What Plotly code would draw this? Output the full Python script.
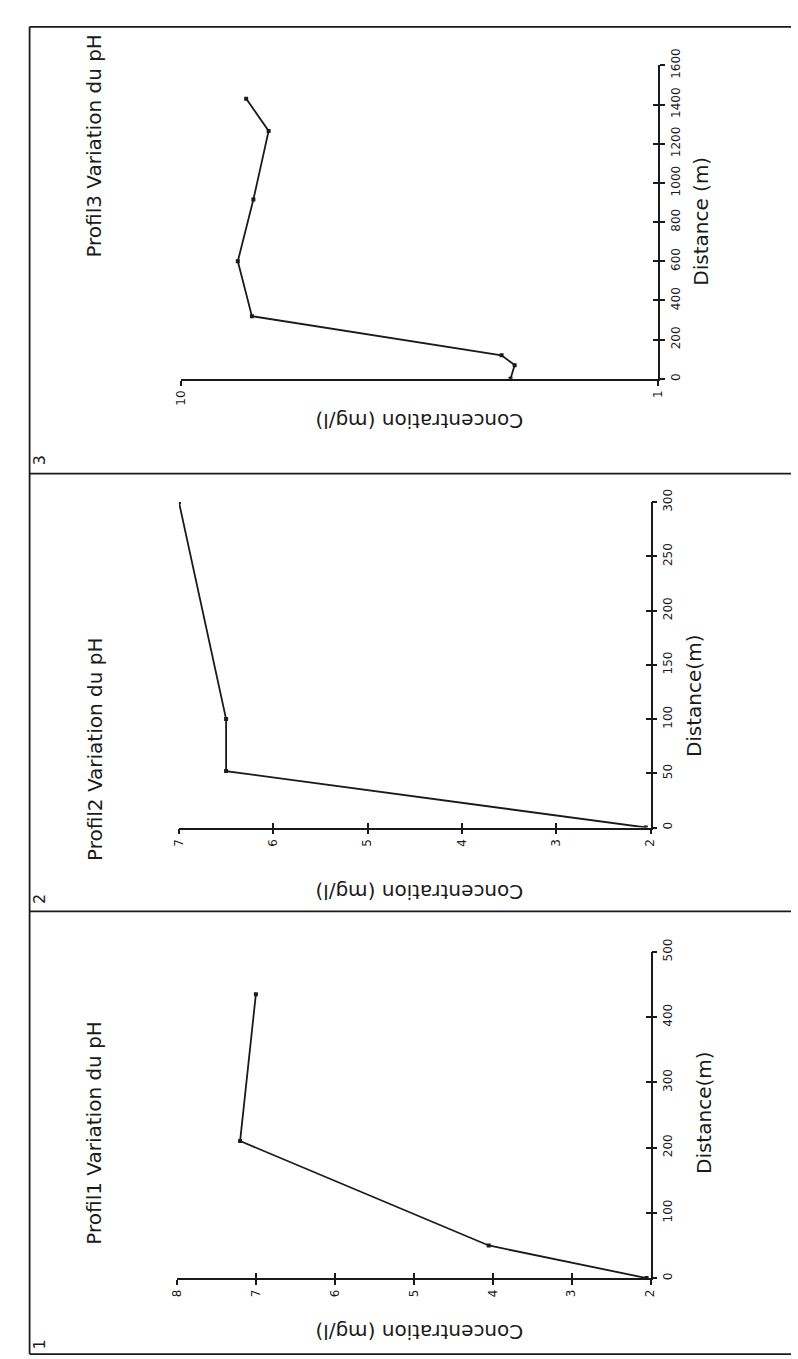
import plotly.graph_objects as go

W, H = 798, 1359

# ---------------- data ----------------
p1_distance = [0, 50, 210, 435]
p1_conc = [2.05, 4.05, 7.2, 7.0]

p2_distance = [0, 52, 100, 300]
p2_conc = [2.05, 6.5, 6.5, 7.0]

p3_distance = [0, 70, 120, 320, 600, 915, 1265, 1430]
p3_conc = [2.04, 2.0, 2.13, 7.1, 7.6, 7.05, 6.55, 7.3]

p1_conc_ticks = [2, 3, 4, 5, 6, 7, 8]
p1_dist_ticks = [0, 100, 200, 300, 400, 500]
p2_conc_ticks = [2, 3, 4, 5, 6, 7]
p2_dist_ticks = [0, 50, 100, 150, 200, 250, 300]
p3_conc_ticks = [1, 10]
p3_dist_ticks = [0, 200, 400, 600, 800, 1000, 1200, 1400, 1600]

titles = ["Profil1 Variation du pH", "Profil2 Variation du pH", "Profil3 Variation du pH"]
dist_titles = ["Distance(m)", "Distance(m)", "Distance (m)"]
conc_title = "Concentration (mg/l)"
panel_numbers = ["1", "2", "3"]

# ---------------- layout geometry (pixels) ----------------
panels = [
    dict(d=p1_distance, c=p1_conc, ct=p1_conc_ticks, dt=p1_dist_ticks,
         xl=173, xr=655, yb=1279, yt=948, crange=[8, 2], drange=[0, 500], ctype="linear",
         title_y=1131, dtitle=(710, 1111), ctitle_y=1333, num_y=1346),
    dict(d=p2_distance, c=p2_conc, ct=p2_conc_ticks, dt=p2_dist_ticks,
         xl=175, xr=655, yb=822, yt=492, crange=[7, 2], drange=[0, 300], ctype="linear",
         title_y=742, dtitle=(700, 688), ctitle_y=888, num_y=894),
    dict(d=p3_distance, c=p3_conc, ct=p3_conc_ticks, dt=p3_dist_ticks,
         xl=177, xr=663, yb=367, yt=49, crange=[1, 0], drange=[0, 1600], ctype="log",
         title_y=130, dtitle=(706, 207), ctitle_y=409, num_y=449),
]

INK = "#1a1a1a"
FONT = "DejaVu Sans"

fig = go.Figure()
layout = dict(width=W, height=H, autosize=False,
              margin=dict(l=0, r=0, t=0, b=0, pad=0),
              paper_bgcolor="white", plot_bgcolor="white",
              showlegend=False, annotations=[], shapes=[])


def note(text, px, py, angle, size):
    return dict(text=text, x=px / W, y=1 - py / H, xref="paper", yref="paper",
                xanchor="center", yanchor="middle", showarrow=False,
                textangle=angle, font=dict(family=FONT, size=size, color=INK))


for i, p in enumerate(panels, start=1):
    xd = [p["xl"] / W, p["xr"] / W]
    yd = [1 - p["yb"] / H, 1 - p["yt"] / H]
    sx = "" if i == 1 else str(i)
    fig.add_trace(go.Scatter(
        x=p["c"], y=p["d"], mode="lines+markers",
        xaxis="x" + sx, yaxis="y" + sx,
        line=dict(color=INK, width=1.8),
        marker=dict(symbol="square", size=4, color=INK),
        hoverinfo="skip"))
    common = dict(showgrid=False, zeroline=False, showline=True, linecolor=INK,
                  linewidth=1.6, ticks="outside", ticklen=5, tickwidth=1.5,
                  tickcolor=INK, tickangle=-90,
                  tickfont=dict(family=FONT, size=12, color=INK))
    layout["xaxis" + sx] = dict(common, domain=xd, anchor="y" + sx, side="bottom",
                                type=p["ctype"], range=p["crange"],
                                tickmode="array", tickvals=p["ct"],
                                ticktext=[str(v) for v in p["ct"]])
    layout["yaxis" + sx] = dict(common, domain=yd, anchor="x" + sx, side="right",
                                range=p["drange"], tickmode="array", tickvals=p["dt"],
                                ticktext=[str(v) for v in p["dt"]])
    # overlay axes giving the inner half of the crossing tick marks
    o = str(i + 3)
    inner = dict(showgrid=False, zeroline=False, showline=False, ticks="inside",
                 ticklen=5, tickwidth=1.5, tickcolor=INK, showticklabels=False)
    layout["xaxis" + o] = dict(inner, overlaying="x" + sx, anchor="y" + sx, side="bottom",
                               type=p["ctype"], range=p["crange"],
                               tickmode="array", tickvals=p["ct"])
    layout["yaxis" + o] = dict(inner, overlaying="y" + sx, anchor="x" + sx, side="right",
                               range=p["drange"], tickmode="array", tickvals=p["dt"])
    fig.add_trace(go.Scatter(x=[None], y=[None], xaxis="x" + o, yaxis="y" + o,
                             mode="markers", hoverinfo="skip", showlegend=False))

    ann = layout["annotations"]
    ann.append(note(titles[i - 1], 89, p["title_y"], -90, 20))
    ann.append(note(dist_titles[i - 1], p["dtitle"][0], p["dtitle"][1], -90, 20))
    ann.append(note(conc_title, 420, p["ctitle_y"], 180, 20))
    ann.append(note(panel_numbers[i - 1], 33, p["num_y"], -90, 16))

# frame lines of the scanned page
frame = [(23, 10, 798, 10), (23, 463, 798, 463), (23, 907, 798, 907),
         (23, 1356, 798, 1356), (23, 10, 23, 1356)]
for x0, y0, x1, y1 in frame:
    layout["shapes"].append(dict(type="line", xref="paper", yref="paper",
                                 x0=x0 / W, y0=1 - y0 / H, x1=x1 / W, y1=1 - y1 / H,
                                 line=dict(color=INK, width=1.8)))

fig.update_layout(**layout)
fig.write_html("out.html")
